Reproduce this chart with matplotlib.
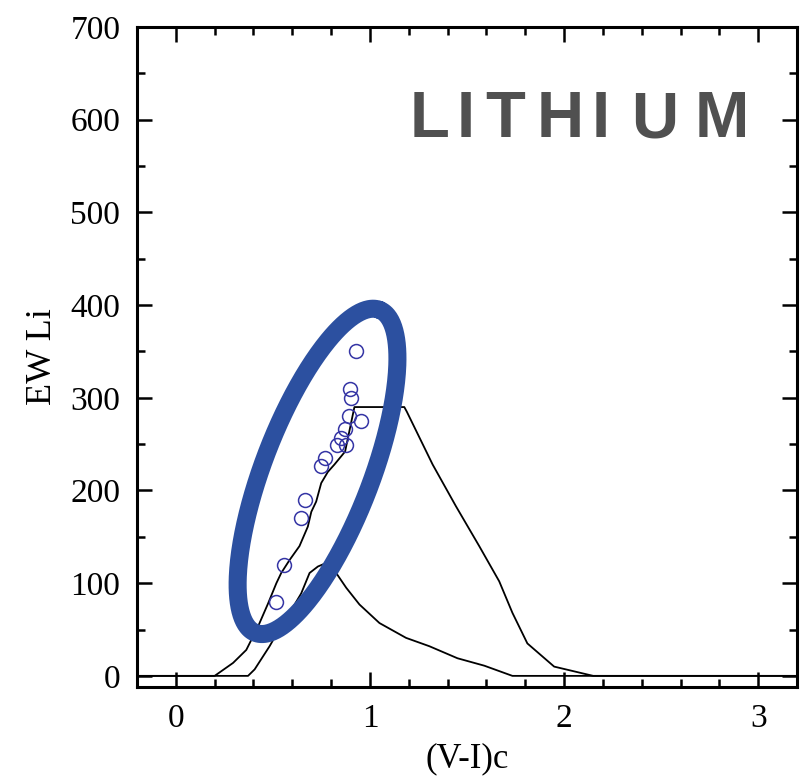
import numpy as np
import matplotlib
matplotlib.use("Agg")
import matplotlib.pyplot as plt
from matplotlib.ticker import MultipleLocator

# ---- data ----
star_vi = [0.93, 0.895, 0.903, 0.891, 0.953, 0.869, 0.852, 0.831, 0.878, 0.766, 0.746, 0.663, 0.646, 0.555, 0.514]
star_ew = [350, 310, 300, 280, 275, 266, 257, 249, 249, 235, 226, 190, 170, 120, 80]

upper_vi = [-0.2, 0.2, 0.295, 0.363, 0.423, 0.475, 0.518, 0.543, 0.586, 0.637, 0.68, 0.698, 0.723,
            0.749, 0.783, 0.817, 0.872, 0.88, 0.92, 1.177, 1.19, 1.323, 1.443, 1.563, 1.666, 1.734,
            1.811, 1.949, 2.15, 3.2]
upper_ew = [0, 0, 14, 28, 53, 78, 100, 111, 125, 140, 161, 177, 188,
            208, 220, 228, 242, 250, 290, 290, 285, 228, 183, 140, 102, 68,
            35, 10, 0, 0]

lower_vi = [-0.2, 0.372, 0.406, 0.483, 0.535, 0.595, 0.646, 0.689, 0.732, 0.766, 0.79, 0.826, 0.878,
            0.946, 1.049, 1.186, 1.306, 1.451, 1.589, 1.734, 3.2]
lower_ew = [0, 0, 7, 32, 51, 71, 89, 111, 118, 121, 120, 111, 95,
            77, 57, 41, 32, 19, 11, 0, 0]

# highlight ellipse (centre in data units, size in pixels)
ell_center = (0.73, 220.6)
ell_semi_px = (173, 54)
ell_angle_deg = 69

W, H = 810, 778
fig = plt.figure(figsize=(W / 100, H / 100), dpi=100)
ax = fig.add_axes([137 / W, 1 - 687 / H, (797 - 137) / W, (687 - 27) / H])

serif = ["Liberation Serif", "DejaVu Serif"]

ax.plot(upper_vi, upper_ew, color="black", lw=1.3, zorder=2)
ax.plot(lower_vi, lower_ew, color="black", lw=1.3, zorder=2)

ax.set_xlim(-0.2, 3.2)
ax.set_ylim(-12, 700)

# ellipse: build in pixel space, convert to data via axis scales
sx = (797 - 137) / (3.2 - (-0.2))
sy = (687 - 27) / (700 - (-12))
t = np.linspace(0, 2 * np.pi, 400)
th = np.deg2rad(ell_angle_deg)
a, b = ell_semi_px
px = a * np.cos(t) * np.cos(th) - b * np.sin(t) * np.sin(th)
py = a * np.cos(t) * np.sin(th) + b * np.sin(t) * np.cos(th)
ax.plot(ell_center[0] + px / sx, ell_center[1] + py / sy, color="#2c50a0", lw=13,
        solid_capstyle="round", zorder=3)

ax.plot(star_vi, star_ew, linestyle="none", marker="o", ms=10, mfc="none",
        mec="#3535a5", mew=1.1, zorder=4)

ax.xaxis.set_major_locator(MultipleLocator(1))
ax.xaxis.set_minor_locator(MultipleLocator(0.2))
ax.yaxis.set_major_locator(MultipleLocator(100))
ax.yaxis.set_minor_locator(MultipleLocator(50))
ax.tick_params(which="both", direction="in", top=True, right=True, width=1.8,
               labelsize=24, labelfontfamily="Liberation Serif")
ax.tick_params(which="major", length=11)
ax.tick_params(which="minor", length=6)
ax.tick_params(axis="x", which="major", pad=12)
ax.tick_params(axis="y", which="major", pad=12)
for sp in ax.spines.values():
    sp.set_linewidth(2.2)

ax.set_xlabel("(V-I)c", fontfamily=serif, fontsize=25, labelpad=6)
ax.set_ylabel("EW Li", fontfamily=serif, fontsize=26, labelpad=8)

# spaced title letters
letters = ["L", "I", "T", "H", "I", "U", "M"]
letter_x = [430, 466, 505, 560.5, 600.5, 654.5, 721.5]
for ch, xp in zip(letters, letter_x):
    fig.text(xp / W, 1 - 137 / H, ch, ha="center", va="baseline",
             fontfamily=["Liberation Sans", "DejaVu Sans"], fontweight="bold",
             fontsize=47, color="#505050")

fig.savefig("out.png", dpi=100)
